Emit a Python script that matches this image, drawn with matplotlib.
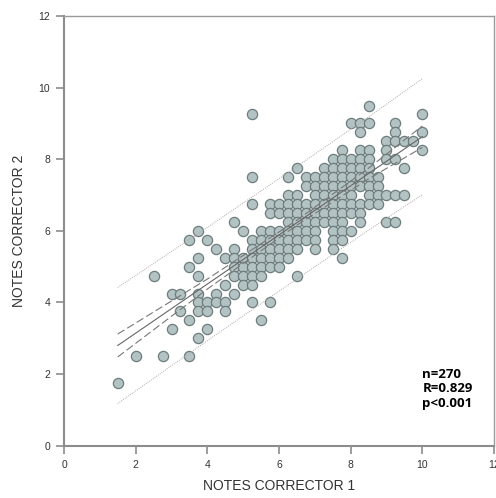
import numpy as np
import matplotlib
matplotlib.use("Agg")
import matplotlib.pyplot as plt

plt.rcParams["font.family"] = ["Liberation Sans", "DejaVu Sans"]

# ---- data: NOTES CORRECTOR 1 values (x) at each CORRECTOR 2 level (y) ----
y_levels = [9.5, 9.25, 9.0, 8.75, 8.5, 8.25, 8.0, 7.75, 7.5, 7.25, 7.0, 6.75,
            6.5, 6.25, 6.0, 5.75, 5.5, 5.25, 5.0, 4.75, 4.5, 4.25, 4.0, 3.75,
            3.5, 3.25, 3.0, 2.5, 1.75]
r9_50 = [8.5]
r9_25 = [5.25, 10.0]
r9_00 = [8.0, 8.25, 8.5, 9.25]
r8_75 = [8.25, 9.25, 10.0]
r8_50 = [9.0, 9.25, 9.5, 9.75]
r8_25 = [7.75, 8.25, 8.5, 9.0, 10.0]
r8_00 = [7.5, 7.75, 8.0, 8.25, 8.5, 9.0, 9.25]
r7_75 = [6.5, 7.25, 7.5, 7.75, 8.0, 8.25, 8.5, 9.5]
r7_50 = [5.25, 6.25, 6.75, 7.0, 7.25, 7.5, 7.75, 8.0, 8.25, 8.5, 8.75]
r7_25 = [6.75, 7.0, 7.25, 7.5, 7.75, 8.0, 8.25, 8.5, 8.75]
r7_00 = [6.25, 6.5, 7.0, 7.25, 7.5, 7.75, 8.0, 8.5, 8.75, 9.0, 9.25, 9.5]
r6_75 = [5.25, 5.75, 6.0, 6.25, 6.5, 6.75, 7.0, 7.25, 7.5, 7.75, 8.0, 8.25, 8.5, 8.75]
r6_50 = [5.75, 6.0, 6.25, 6.5, 6.75, 7.0, 7.25, 7.5, 7.75, 8.0, 8.25]
r6_25 = [4.75, 6.25, 6.5, 6.75, 7.0, 7.25, 7.5, 7.75, 8.25, 9.0, 9.25]
r6_00 = [3.75, 5.0, 5.5, 5.75, 6.0, 6.25, 6.5, 6.75, 7.0, 7.5, 7.75, 8.0]
r5_75 = [3.5, 4.0, 5.25, 5.5, 5.75, 6.0, 6.25, 6.5, 6.75, 7.0, 7.5, 7.75]
r5_50 = [4.25, 4.75, 5.25, 5.5, 5.75, 6.0, 6.25, 6.5, 7.0, 7.5]
r5_25 = [3.75, 4.5, 4.75, 5.0, 5.25, 5.5, 5.75, 6.0, 6.25, 7.75]
r5_00 = [3.5, 4.75, 5.0, 5.25, 5.5, 5.75, 6.0]
r4_75 = [2.5, 3.75, 4.75, 5.0, 5.25, 5.5, 6.5]
r4_50 = [4.5, 5.0, 5.25]
r4_25 = [3.0, 3.25, 3.75, 4.25, 4.75]
r4_00 = [3.75, 4.0, 4.25, 4.5, 5.25, 5.75]
r3_75 = [3.25, 3.75, 4.0, 4.5]
r3_50 = [3.5, 5.5]
r3_25 = [3.0, 4.0]
r3_00 = [3.75]
r2_50 = [2.0, 2.75, 3.5]
r1_75 = [1.5]
rows = [r9_50, r9_25, r9_00, r8_75, r8_50, r8_25, r8_00, r7_75, r7_50, r7_25,
        r7_00, r6_75, r6_50, r6_25, r6_00, r5_75, r5_50, r5_25, r5_00, r4_75,
        r4_50, r4_25, r4_00, r3_75, r3_50, r3_25, r3_00, r2_50, r1_75]

# regression fit and bands
fit_x_range = [1.5, 10.0]
fit_intercept = 1.77
fit_slope = 0.686
band_x = [1.5, 4.0, 6.5, 8.5, 10.0]
ci_half = [0.32, 0.14, 0.07, 0.15, 0.30]
pi_half = [1.62, 1.58, 1.57, 1.58, 1.62]

stats_text = "n=270\nR=0.829\np<0.001"
xlabel = "NOTES CORRECTOR 1"
ylabel = "NOTES CORRECTOR 2"

# ---- figure ----
W, H = 496, 498
fig = plt.figure(figsize=(W / 100, H / 100), dpi=100)
ax = fig.add_axes([64 / W, 52.3 / H, 430 / W, 429.7 / H])

xs, ys = [], []
for yv, row in zip(y_levels, rows):
    for xv in row:
        xs.append(xv)
        ys.append(yv)

ax.scatter(xs, ys, s=54, facecolor="#b3c3c3", edgecolor="#6d7d7d",
           linewidth=0.9, zorder=2)

lx = np.linspace(fit_x_range[0], fit_x_range[1], 100)
ly = fit_intercept + fit_slope * lx
ci = np.interp(lx, band_x, ci_half)
pi = np.interp(lx, band_x, pi_half)
ax.plot(lx, ly, color="#666666", lw=0.8, zorder=3)
for sgn in (1, -1):
    ax.plot(lx, ly + sgn * ci, color="#777777", lw=0.8,
            linestyle=(0, (7, 3)), zorder=3)
    ax.plot(lx, ly + sgn * pi, color="#b0a8a8", lw=0.7,
            linestyle=(0, (1, 1.2)), zorder=3)

ax.set_xlim(0, 12)
ax.set_ylim(0, 12)
ax.set_xticks(range(0, 13, 2))
ax.set_yticks(range(0, 13, 2))
for side in ("left", "bottom"):
    ax.spines[side].set_color("#8c8c8c")
    ax.spines[side].set_linewidth(1.5)
for side in ("top", "right"):
    ax.spines[side].set_color("#9a9a9a")
    ax.spines[side].set_linewidth(1.0)
ax.tick_params(direction="out", length=6, width=1.2, color="#8c8c8c",
               labelsize=7.5, labelcolor="#333333", pad=4)

ax.set_xlabel(xlabel, fontsize=10, color="#333333", labelpad=7)
ax.set_ylabel(ylabel, fontsize=10, color="#333333", labelpad=9)

ax.text(10.0, 1.0, stats_text, fontsize=9.5, fontweight="bold",
        family=["Open Sans", "DejaVu Sans"], color="black",
        linespacing=1.15, va="bottom", ha="left")

fig.savefig("out.png", dpi=100)
